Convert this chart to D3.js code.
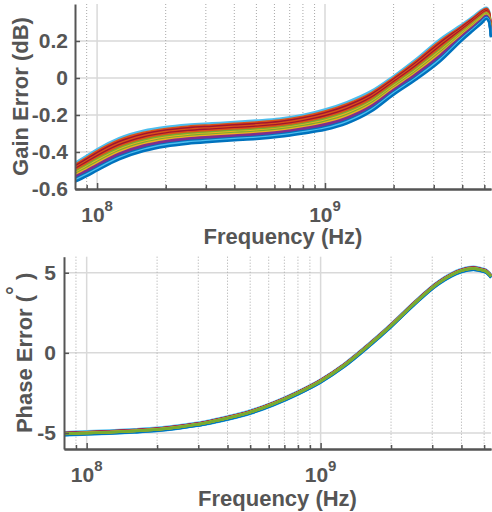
<!DOCTYPE html>
<html><head><meta charset="utf-8">
<script src="https://cdn.jsdelivr.net/npm/d3@7"></script>
<style>body{margin:0;background:#fff} svg{display:block}</style>
</head><body><svg id="c" width="492" height="512"></svg>
<script>
// ---------- data ----------
const freqHz = [8e7, 9e7, 1e8, 1.25e8, 1.6e8, 2e8, 2.5e8, 3.2e8, 4e8, 5e8, 6.3e8, 8e8,
  1e9, 1.25e9, 1.6e9, 2e9, 2.5e9, 3.2e9, 4e9, 4.5e9, 4.9e9, 5.1e9, 5.25e9, 5.35e9];
// upper / lower edges of the bundle of gain curves (dB)
const gainUpper = [-0.46, -0.42, -0.385, -0.325, -0.285, -0.265, -0.253, -0.245, -0.238, -0.23, -0.22, -0.20,
  -0.17, -0.13, -0.07, 0.01, 0.10, 0.21, 0.29, 0.335, 0.37, 0.38, 0.36, 0.26];
const gainLower = [-0.56, -0.53, -0.50, -0.44, -0.395, -0.37, -0.355, -0.345, -0.337, -0.33, -0.318, -0.30,
  -0.28, -0.245, -0.18, -0.09, -0.01, 0.09, 0.205, 0.26, 0.30, 0.32, 0.30, 0.22];
// upper / lower edges of the bundle of phase curves (degrees)
const phaseUpper = [-4.95, -4.92, -4.90, -4.85, -4.77, -4.68, -4.52, -4.28, -3.97, -3.60, -3.07, -2.40,
  -1.66, -0.72, 0.55, 1.80, 3.15, 4.48, 5.23, 5.37, 5.27, 5.18, 5.02, 4.88];
const phaseLower = [-5.15, -5.12, -5.10, -5.05, -4.97, -4.88, -4.72, -4.48, -4.17, -3.80, -3.27, -2.60,
  -1.86, -0.92, 0.35, 1.60, 2.95, 4.28, 5.03, 5.17, 5.07, 4.98, 4.82, 4.68];
// the individual traces: colour and place inside each bundle (0 = upper edge, 1 = lower edge)
const seriesColors = ["#4DBEEE", "#D95319", "#A2142F", "#D95319", "#A2142F", "#D95319", "#77AC30",
  "#EDB120", "#77AC30", "#EDB120", "#7E2F8E", "#7E2F8E", "#0072BD", "#4DBEEE", "#0072BD"];
const gainSeriesPos = [0.0, 0.1, 0.18, 0.26, 0.33, 0.4, 0.48, 0.55, 0.6, 0.66, 0.73, 0.8, 0.87, 0.93, 1.0];
const phaseSeriesPos = [0.0, 0.3, 0.25, 0.35, 0.3, 0.4, 0.5, 0.45, 0.55, 0.5, 0.35, 0.4, 0.85, 1.0, 0.9];
const phaseDrawOrder = [0, 13, 12, 14, 1, 2, 3, 4, 5, 10, 11, 7, 9, 6, 8];

const gainTicks = [-0.6, -0.4, -0.2, 0, 0.2];
const gainTickLabels = ["-0.6", "-0.4", "-0.2", "0", "0.2"];
const phaseTicks = [-5, 0, 5];
const phaseTickLabels = ["-5", "0", "5"];
const freqMajor = [1e8, 1e9];
const freqMajorExp = ["8", "9"];
const freqMinor = [9e7, 2e8, 3e8, 4e8, 5e8, 6e8, 7e8, 8e8, 9e8, 2e9, 3e9, 4e9, 5e9];
const freqDomain = [8e7, 5.35e9];

// ---------- drawing ----------
const svg = d3.select("#c");
const TXT = "#555555";
const FONT = "'Liberation Sans', Arial, Helvetica, sans-serif";

function panel(cfg) {
  const g = svg.append("g");
  const x = d3.scaleLog().domain(freqDomain).range([cfg.left, cfg.right]);
  const y = d3.scaleLinear().domain(cfg.yDomain).range([cfg.bottom, cfg.top]);
  const clipId = "clip" + cfg.id;
  svg.append("clipPath").attr("id", clipId).append("rect")
    .attr("x", cfg.left).attr("y", cfg.top - 2)
    .attr("width", cfg.right - cfg.left + 2).attr("height", cfg.bottom - cfg.top + 2);

  // grid
  const grid = g.append("g");
  grid.selectAll(".gy").data(cfg.yTicks.filter(v => v !== cfg.yDomain[0])).join("line")
    .attr("x1", cfg.left).attr("x2", cfg.right)
    .attr("y1", d => y(d)).attr("y2", d => y(d))
    .attr("stroke", "#d9d9d9").attr("stroke-width", 1.5);
  grid.selectAll(".gxm").data(freqMinor).join("line")
    .attr("x1", d => x(d)).attr("x2", d => x(d))
    .attr("y1", cfg.top).attr("y2", cfg.bottom)
    .attr("stroke", "#a8a8a8").attr("stroke-width", 1).attr("stroke-dasharray", "1,2");
  grid.selectAll(".gxM").data(freqMajor).join("line")
    .attr("x1", d => x(d)).attr("x2", d => x(d))
    .attr("y1", cfg.top).attr("y2", cfg.bottom)
    .attr("stroke", "#d9d9d9").attr("stroke-width", 1.5);

  // curves
  const line = d3.line().x(d => x(d.f)).y(d => y(d.v)).curve(d3.curveMonotoneX);
  const lines = g.append("g").attr("clip-path", `url(#${clipId})`);
  cfg.order.forEach(k => {
    const p = cfg.pos[k];
    const pts = freqHz.map((f, i) => ({ f, v: cfg.upper[i] + p * (cfg.lower[i] - cfg.upper[i]) }));
    lines.append("path").attr("d", line(pts)).attr("fill", "none")
      .attr("stroke", seriesColors[k]).attr("stroke-width", 2.5).attr("stroke-linejoin", "round");
  });

  // axes
  const yAxis = d3.axisLeft(y).tickValues(cfg.yTicks)
    .tickFormat((d, i) => cfg.yTickLabels[i]).tickSizeInner(-5).tickSizeOuter(0).tickPadding(cfg.yPad);
  const ya = g.append("g").attr("transform", `translate(${cfg.left},0)`).call(yAxis);
  const xMinorAxis = d3.axisBottom(x).tickValues(freqMinor).tickFormat("").tickSizeInner(-4).tickSizeOuter(0);
  g.append("g").attr("transform", `translate(0,${cfg.bottom})`).call(xMinorAxis);
  const xAxis = d3.axisBottom(x).tickValues(freqMajor).tickFormat("").tickSizeInner(-6).tickSizeOuter(0);
  g.append("g").attr("transform", `translate(0,${cfg.bottom})`).call(xAxis);
  g.selectAll(".domain").attr("stroke", TXT).attr("stroke-width", 2);
  g.selectAll(".tick line").attr("stroke", TXT).attr("stroke-width", 1.5);
  ya.selectAll("text").attr("font-family", FONT).attr("font-weight", "bold")
    .attr("font-size", 21).attr("fill", TXT);

  // x tick labels with exponents
  freqMajor.forEach((f, i) => {
    const t = g.append("text").attr("x", x(f)).attr("y", cfg.bottom + 33)
      .attr("text-anchor", "middle").attr("font-family", FONT).attr("font-weight", "bold")
      .attr("fill", TXT).attr("font-size", 21);
    t.append("tspan").text("10");
    t.append("tspan").attr("dy", -11).attr("font-size", 15).text(freqMajorExp[i]);
  });

  // axis titles
  g.append("text").attr("x", (cfg.left + cfg.right) / 2).attr("y", cfg.xTitleY)
    .attr("text-anchor", "middle").attr("font-family", FONT).attr("font-weight", "bold")
    .attr("font-size", 22).attr("fill", TXT).text("Frequency (Hz)");
  const yt = g.append("text")
    .attr("transform", `translate(${cfg.yTitleX},${(cfg.top + cfg.bottom) / 2}) rotate(-90)`)
    .attr("text-anchor", "middle").attr("font-family", FONT).attr("font-weight", "bold")
    .attr("font-size", 22).attr("fill", TXT);
  cfg.yTitle(yt);
}

panel({
  id: 1, left: 75, right: 491, top: 4, bottom: 189, yDomain: [-0.6, 0.4],
  yTicks: gainTicks, yTickLabels: gainTickLabels, yPad: 7,
  upper: gainUpper, lower: gainLower, pos: gainSeriesPos, order: d3.range(seriesColors.length),
  xTitleY: 244, yTitleX: 28,
  yTitle: t => t.text("Gain Error (dB)")
});
panel({
  id: 2, left: 64, right: 491, top: 256.7, bottom: 449, yDomain: [-6, 6],
  yTicks: phaseTicks, yTickLabels: phaseTickLabels, yPad: 8,
  upper: phaseUpper, lower: phaseLower, pos: phaseSeriesPos, order: phaseDrawOrder,
  xTitleY: 506, yTitleX: 32,
  yTitle: t => {
    t.append("tspan").text("Phase Error (");
    t.append("tspan").attr("dy", -10).text("°");
    t.append("tspan").attr("dy", 10).text(" )");
  }
});
</script>
</body></html>
